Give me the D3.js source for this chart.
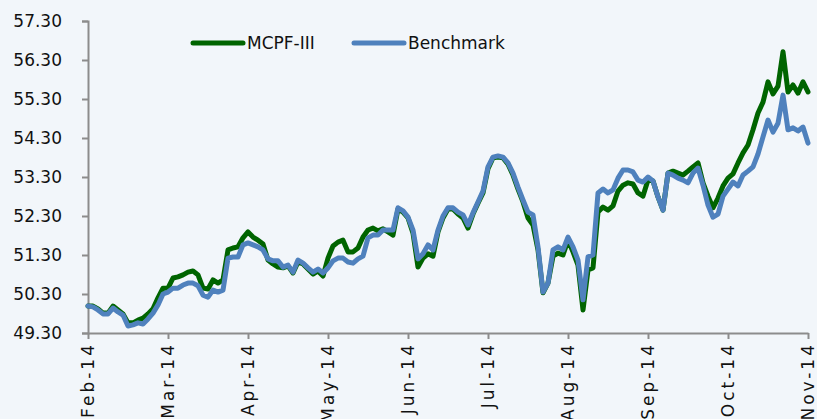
<!DOCTYPE html>
<html>
<head>
<meta charset="utf-8">
<script src="https://cdn.jsdelivr.net/npm/d3@7"></script>
<style>
    body { margin: 0; background: #f2f6fa; }
    svg { display: block; }
    .tick text, .legend text { font-family: "DejaVu Sans", Verdana, sans-serif; font-size: 17px; fill: #111; }
    .x.axis text { letter-spacing: 3px; }
</style>
</head>
<body>
<div id="chart"></div>
<script>
// month labels, one every 16 samples
var months = ["Feb-14", "Mar-14", "Apr-14", "May-14", "Jun-14", "Jul-14", "Aug-14", "Sep-14", "Oct-14", "Nov-14"];
var yTicks = [49.30, 50.30, 51.30, 52.30, 53.30, 54.30, 55.30, 56.30, 57.30];
var seriesNames = ["MCPF-III", "Benchmark"];

// NAV values
var mcpf = [
    49.99, 49.99, 49.92, 49.81, 49.81, 49.99, 49.89, 49.79, 49.56, 49.56,
    49.63, 49.68, 49.79, 49.92, 50.20, 50.45, 50.45, 50.71, 50.74, 50.79,
    50.86, 50.89, 50.79, 50.45, 50.43, 50.66, 50.58, 50.66, 51.43, 51.48,
    51.51, 51.74, 51.89, 51.76, 51.68, 51.58, 51.17, 51.07, 50.99, 50.97,
    51.02, 50.84, 51.12, 51.07, 50.94, 50.81, 50.89, 50.76, 51.22, 51.53,
    51.63, 51.68, 51.38, 51.38, 51.48, 51.76, 51.94, 51.99, 51.92, 51.97,
    51.89, 51.81, 52.48, 52.40, 52.25, 51.86, 50.99, 51.22, 51.33, 51.27,
    51.89, 52.25, 52.48, 52.48, 52.35, 52.25, 51.99, 52.35, 52.63, 52.89,
    53.51, 53.79, 53.81, 53.79, 53.63, 53.35, 52.99, 52.66, 52.25, 52.07,
    51.43, 50.33, 50.58, 51.27, 51.35, 51.30, 51.68, 51.38, 51.04, 49.89,
    50.92, 50.97, 52.40, 52.53, 52.45, 52.56, 52.94, 53.09, 53.15, 53.12,
    52.89, 52.81, 53.22, 53.20, 52.79, 52.45, 53.40, 53.45, 53.40, 53.35,
    53.45, 53.56, 53.66, 53.15, 52.81, 52.51, 52.76, 53.07, 53.27, 53.38,
    53.66, 53.92, 54.12, 54.51, 54.94, 55.22, 55.74, 55.43, 55.63, 56.51,
    55.48, 55.66, 55.45, 55.74, 55.48
];

var benchmark = [
    49.99, 49.97, 49.89, 49.79, 49.79, 49.94, 49.84, 49.76, 49.48, 49.51,
    49.56, 49.53, 49.66, 49.81, 50.02, 50.30, 50.35, 50.45, 50.45, 50.53,
    50.58, 50.58, 50.51, 50.27, 50.22, 50.40, 50.35, 50.40, 51.22, 51.25,
    51.25, 51.56, 51.61, 51.56, 51.51, 51.43, 51.20, 51.15, 51.15, 50.99,
    51.04, 50.86, 51.17, 51.09, 50.97, 50.86, 50.94, 50.84, 50.97, 51.15,
    51.22, 51.22, 51.12, 51.09, 51.20, 51.27, 51.74, 51.81, 51.81, 51.94,
    51.94, 51.94, 52.51, 52.43, 52.27, 51.94, 51.20, 51.33, 51.56, 51.43,
    51.94, 52.30, 52.51, 52.51, 52.40, 52.33, 52.07, 52.38, 52.66, 52.94,
    53.56, 53.81, 53.84, 53.81, 53.66, 53.40, 53.04, 52.71, 52.40, 52.33,
    51.51, 50.35, 50.58, 51.43, 51.51, 51.43, 51.76, 51.51, 51.17, 50.15,
    51.25, 51.30, 52.89, 52.99, 52.89, 52.97, 53.27, 53.48, 53.48, 53.43,
    53.22, 53.17, 53.30, 53.20, 52.79, 52.45, 53.40, 53.35, 53.27, 53.22,
    53.15, 53.40, 53.53, 53.09, 52.58, 52.27, 52.35, 52.81, 52.99, 53.17,
    53.07, 53.35, 53.45, 53.56, 53.89, 54.33, 54.76, 54.45, 54.68, 55.40,
    54.51, 54.56, 54.48, 54.58, 54.17
];

var colors = ["#006400", "#4f81bd"];

var width = 817, height = 419;
var margin = { top: 21, right: 9, bottom: 86, left: 88 };

var svg = d3.select("#chart")
    .append("svg")
    .attr("width", width)
    .attr("height", height);

var xScale = d3.scaleLinear()
    .domain([0, mcpf.length - 1])
    .range([margin.left, width - margin.right]);

var yScale = d3.scaleLinear()
    .domain([yTicks[0], yTicks[yTicks.length - 1]])
    .range([height - margin.bottom, margin.top]);

var step = (mcpf.length - 1) / (months.length - 1);

// y axis
svg.append("g")
    .attr("class", "y axis")
    .attr("transform", "translate(" + margin.left + ",0)")
    .call(d3.axisLeft(yScale).tickValues(yTicks).tickFormat(d3.format(".2f")).tickSize(6).tickPadding(20))
    .call(g => g.selectAll("line, path").attr("stroke", "#8c8c8c").attr("stroke-width", 2));

// x axis, labels turned on their side
svg.append("g")
    .attr("class", "x axis")
    .attr("transform", "translate(0," + yScale(yTicks[0]) + ")")
    .call(d3.axisBottom(xScale)
        .tickValues(months.map(function (m, i) { return i * step; }))
        .tickFormat(function (d, i) { return months[i]; })
        .tickSize(6).tickSizeOuter(0))
    .call(g => g.selectAll("line, path").attr("stroke", "#8c8c8c").attr("stroke-width", 2))
    .call(g => g.selectAll("text")
        .attr("transform", "rotate(-90)")
        .attr("text-anchor", "end")
        .attr("x", -9)
        .attr("y", 0)
        .attr("dy", "0.35em"));

var lineGen = d3.line()
    .x(function (d, i) { return xScale(i); })
    .y(function (d) { return yScale(d); });

[mcpf, benchmark].forEach(function (s, k) {
    svg.append("path")
        .datum(s)
        .attr("fill", "none")
        .attr("stroke", colors[k])
        .attr("stroke-width", 5)
        .attr("stroke-linejoin", "round")
        .attr("stroke-linecap", "round")
        .attr("d", lineGen);
});

// legend
var legend = svg.append("g").attr("class", "legend");
var legendX = [193, 354];
seriesNames.forEach(function (name, k) {
    legend.append("line")
        .attr("x1", legendX[k]).attr("x2", legendX[k] + 50)
        .attr("y1", 43).attr("y2", 43)
        .attr("stroke", colors[k])
        .attr("stroke-width", 5)
        .attr("stroke-linecap", "round");
    legend.append("text")
        .attr("x", legendX[k] + 54)
        .attr("y", 43)
        .attr("dy", "0.35em")
        .text(name);
});
</script>
</body>
</html>
